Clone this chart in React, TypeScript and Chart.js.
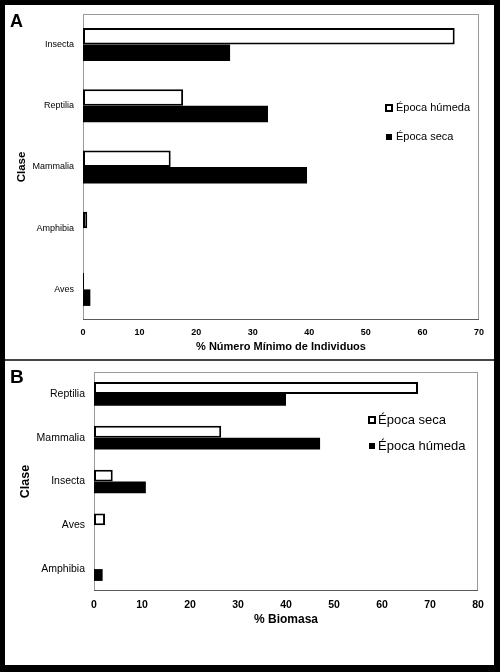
import React, { useEffect, useRef } from 'react';
import { Chart, registerables } from 'chart.js';

Chart.register(...registerables);

const FONT = '"Liberation Sans", Arial, Helvetica, sans-serif';

// Panel A: % Número Mínimo de Individuos
const clasesA = ['Insecta', 'Reptilia', 'Mammalia', 'Amphibia', 'Aves'];
const humedaA = [65.7, 17.7, 15.5, 0.75, 0.2];
const secaA = [26.0, 32.7, 39.6, 0, 1.3];
const maxA = 70;

// Panel B: % Biomasa
const clasesB = ['Reptilia', 'Mammalia', 'Insecta', 'Aves', 'Amphibia'];
const secaB = [67.5, 26.5, 3.9, 2.3, 0];
const humedaB = [40.0, 47.1, 10.8, 0, 1.8];
const maxB = 80;

const tickStep = 10;

// frame round the plot area, drawn under the bars
const framePlugin = {
    id: 'frame',
    beforeDatasetsDraw(chart: any) {
        const { ctx, chartArea: a } = chart;
        ctx.save();
        ctx.lineWidth = 1;
        ctx.strokeStyle = '#9a9a9a';
        ctx.strokeRect(a.left + 0.5, a.top + 0.5, a.width - 1, a.height - 1);
        ctx.strokeStyle = '#5a5a5a';
        ctx.beginPath();
        ctx.moveTo(a.left, a.bottom - 0.5);
        ctx.lineTo(a.right, a.bottom - 0.5);
        ctx.stroke();
        ctx.restore();
    }
};

// legend placed inside the plot area, like the original spreadsheet chart
const insideLegend = {
    id: 'insideLegend',
    afterDraw(chart: any, _args: any, opts: any) {
        const { ctx } = chart;
        ctx.save();
        ctx.font = `${opts.size}px ${FONT}`;
        ctx.textBaseline = 'middle';
        ctx.textAlign = 'left';
        chart.data.datasets.forEach((ds: any, i: number) => {
            const y = opts.y + i * opts.gap;
            const hollow = ds.backgroundColor === '#ffffff';
            if (hollow) {
                const s = opts.box;
                ctx.fillStyle = '#ffffff';
                ctx.fillRect(opts.x, y - s / 2, s, s);
                ctx.lineWidth = 2;
                ctx.strokeStyle = '#000';
                ctx.strokeRect(opts.x + 1, y - s / 2 + 1, s - 2, s - 2);
            } else {
                const s = opts.box - 2;
                ctx.fillStyle = '#000';
                ctx.fillRect(opts.x + 1, y - s / 2, s, s);
            }
            ctx.fillStyle = '#000';
            ctx.fillText(ds.label, opts.textX, y);
        });
        ctx.restore();
    }
};

interface PanelProps {
    top: number;
    height: number;
    letter: string;
    labels: string[];
    white: { label: string; data: number[] };
    black: { label: string; data: number[] };
    max: number;
    xTitle: string;
    sizes: {
        cat: number; tick: number; xTitle: number; yTitle: number;
        yWidth: number; xHeight: number; padTop: number; padRight: number;
        tickPad: number; catPad: number; xTitlePad: number; yTitlePad: number;
        legend: { x: number; textX: number; y: number; gap: number; size: number; box: number };
        letterSize: number; letterTop: number;
    };
}

const Panel: React.FC<PanelProps> = ({ top, height, letter, labels, white, black, max, xTitle, sizes }) => {
    const canvasRef = useRef<HTMLCanvasElement>(null);

    useEffect(() => {
        if (!canvasRef.current) return;
        const chart = new Chart(canvasRef.current, {
            type: 'bar',
            data: {
                labels,
                datasets: [
                    {
                        label: white.label,
                        data: white.data,
                        backgroundColor: '#ffffff',
                        borderColor: '#000000',
                        borderWidth: 2,
                        borderSkipped: false,
                        categoryPercentage: 0.54,
                        barPercentage: 1
                    },
                    {
                        label: black.label,
                        data: black.data,
                        backgroundColor: '#000000',
                        borderWidth: 0,
                        categoryPercentage: 0.54,
                        barPercentage: 1
                    }
                ]
            },
            options: {
                indexAxis: 'y',
                animation: false,
                responsive: true,
                maintainAspectRatio: false,
                layout: { padding: { top: sizes.padTop, right: sizes.padRight, left: 0, bottom: 0 } },
                plugins: {
                    legend: { display: false },
                    tooltip: { enabled: false },
                    insideLegend: sizes.legend
                } as any,
                scales: {
                    x: {
                        min: 0,
                        max,
                        grid: { display: false, drawTicks: false },
                        border: { display: false },
                        ticks: {
                            stepSize: tickStep,
                            padding: sizes.tickPad,
                            color: '#000',
                            font: { family: FONT, size: sizes.tick, weight: 'bold' }
                        },
                        title: {
                            display: true,
                            text: xTitle,
                            color: '#000',
                            padding: { top: 0, bottom: sizes.xTitlePad },
                            font: { family: FONT, size: sizes.xTitle, weight: 'bold' }
                        },
                        afterFit: (s: any) => { s.height = sizes.xHeight; }
                    },
                    y: {
                        grid: { display: false, drawTicks: false },
                        border: { display: false },
                        ticks: {
                            padding: sizes.catPad,
                            color: '#000',
                            font: { family: FONT, size: sizes.cat }
                        },
                        title: {
                            display: true,
                            text: 'Clase',
                            color: '#000',
                            padding: { top: sizes.yTitlePad, bottom: 0 },
                            font: { family: FONT, size: sizes.yTitle, weight: 'bold' }
                        },
                        afterFit: (s: any) => {
                            s.width = sizes.yWidth;
                            s.paddingTop = 0;
                            s.paddingBottom = 0;
                        }
                    }
                }
            },
            plugins: [framePlugin, insideLegend]
        });

        return () => {
            chart.destroy();
        };
    }, []);

    return (
        <div style={{ position: 'absolute', left: 5, top, width: 489, height, background: '#fff' }}>
            <canvas ref={canvasRef} />
            <div style={{
                position: 'absolute', left: 5, top: sizes.letterTop, fontFamily: FONT,
                fontWeight: 'bold', fontSize: sizes.letterSize, lineHeight: 1, color: '#000'
            }}>
                {letter}
            </div>
        </div>
    );
};

export default function App() {
    return (
        <div style={{ position: 'absolute', left: 0, top: 0, width: 500, height: 672, background: '#000' }}>
            <Panel
                top={5}
                height={354}
                letter="A"
                labels={clasesA}
                white={{ label: 'Época húmeda', data: humedaA }}
                black={{ label: 'Época seca', data: secaA }}
                max={maxA}
                xTitle="% Número Mínimo de Individuos"
                sizes={{
                    cat: 9, tick: 9, xTitle: 11, yTitle: 11.5,
                    yWidth: 78, xHeight: 39, padTop: 9, padRight: 15,
                    tickPad: 7, catPad: 9, xTitlePad: 5, yTitlePad: 10,
                    legend: { x: 380, textX: 391, y: 103, gap: 29, size: 11, box: 8 },
                    letterSize: 18, letterTop: 7
                }}
            />
            <div style={{ position: 'absolute', left: 5, top: 359, width: 489, height: 2, background: '#444' }} />
            <Panel
                top={361}
                height={304}
                letter="B"
                labels={clasesB}
                white={{ label: 'Época seca', data: secaB }}
                black={{ label: 'Época húmeda', data: humedaB }}
                max={maxB}
                xTitle="% Biomasa"
                sizes={{
                    cat: 10.5, tick: 10.5, xTitle: 12, yTitle: 12.5,
                    yWidth: 89, xHeight: 74, padTop: 11, padRight: 16,
                    tickPad: 8, catPad: 9, xTitlePad: 38, yTitlePad: 13.5,
                    legend: { x: 363, textX: 373, y: 59, gap: 26, size: 13, box: 8 },
                    letterSize: 19, letterTop: 6
                }}
            />
        </div>
    );
}
